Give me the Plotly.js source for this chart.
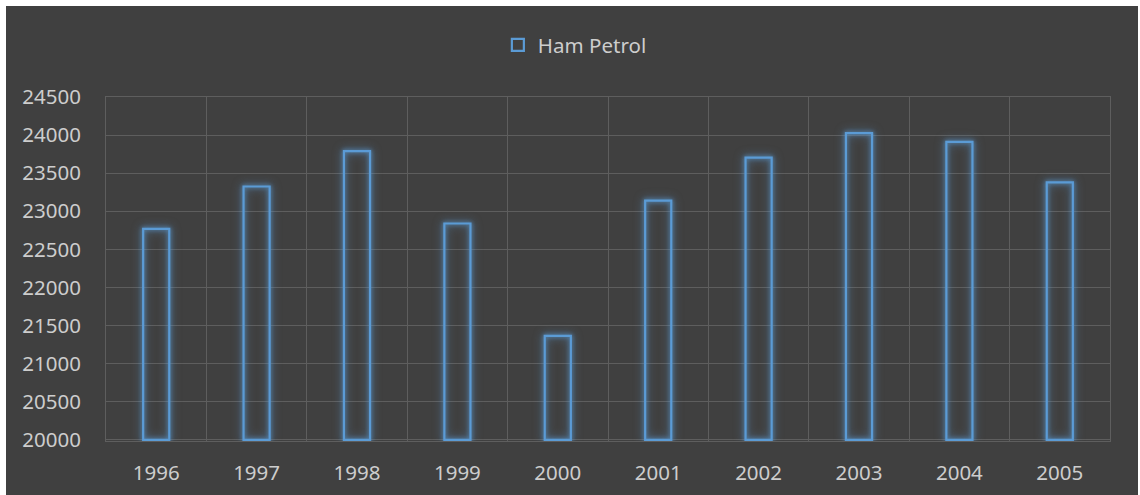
<!DOCTYPE html>
<html>
<head>
<meta charset="utf-8">
<script src="https://cdn.plot.ly/plotly-3.0.1.min.js"></script>
<style>
  html, body { margin: 0; padding: 0; background: #ffffff; }
  #chart { position: absolute; left: 6px; top: 6px; width: 1132px; height: 489px; }
  .barlayer path { filter: drop-shadow(0 0 2px rgba(91,155,213,0.9)) drop-shadow(0 0 4px rgba(91,155,213,0.55)); }
</style>
</head>
<body>
<div id="chart"></div>
<script>
const years = ['1996','1997','1998','1999','2000','2001','2002','2003','2004','2005'];
const hamPetrol = [22770, 23325, 23790, 22840, 21365, 23140, 23705, 24025, 23910, 23380];
const seriesName = 'Ham Petrol';
const baseValue = 20000;

const trace = {
  type: 'bar',
  name: seriesName,
  x: years,
  y: hamPetrol.map(v => v - baseValue),
  base: baseValue,
  width: 0.26,
  marker: { color: 'rgba(0,0,0,0)', line: { color: '#5B9BD5', width: 2.2 } },
  showlegend: true,
  hoverinfo: 'skip'
};

const textColor = '#cdcdcd';
const gridColor = '#5e5e5e';

const layout = {
  width: 1132,
  height: 489,
  paper_bgcolor: '#404040',
  plot_bgcolor: '#404040',
  margin: { l: 100, r: 28, t: 91, b: 54 },
  font: { family: 'Noto Sans, Open Sans, sans-serif', size: 20.5, color: textColor },
  showlegend: true,
  legend: {
    orientation: 'h', x: 0.467, xanchor: 'center', xref: 'paper',
    y: 1.151, yanchor: 'middle',
    font: { size: 20.5, color: textColor },
    bgcolor: 'rgba(0,0,0,0)'
  },
  xaxis: {
    type: 'category',
    tickson: 'boundaries',
    showgrid: true, gridcolor: gridColor, gridwidth: 1,
    showline: true, linecolor: gridColor, linewidth: 1, mirror: true,
    ticks: '', ticklabelstandoff: 13,
    tickfont: { size: 20.5, color: textColor },
    zeroline: false, fixedrange: true
  },
  yaxis: {
    range: [19985, 24500],
    tick0: 20000, dtick: 500, tickformat: 'd',
    showgrid: true, gridcolor: gridColor, gridwidth: 1,
    showline: true, linecolor: gridColor, linewidth: 1, mirror: true,
    ticks: '', ticklabelstandoff: 20,
    tickfont: { size: 20.5, color: textColor },
    zeroline: false, fixedrange: true
  },
  bargap: 0
};

Plotly.newPlot('chart', [trace], layout, { displayModeBar: false, staticPlot: true });
</script>
</body>
</html>
